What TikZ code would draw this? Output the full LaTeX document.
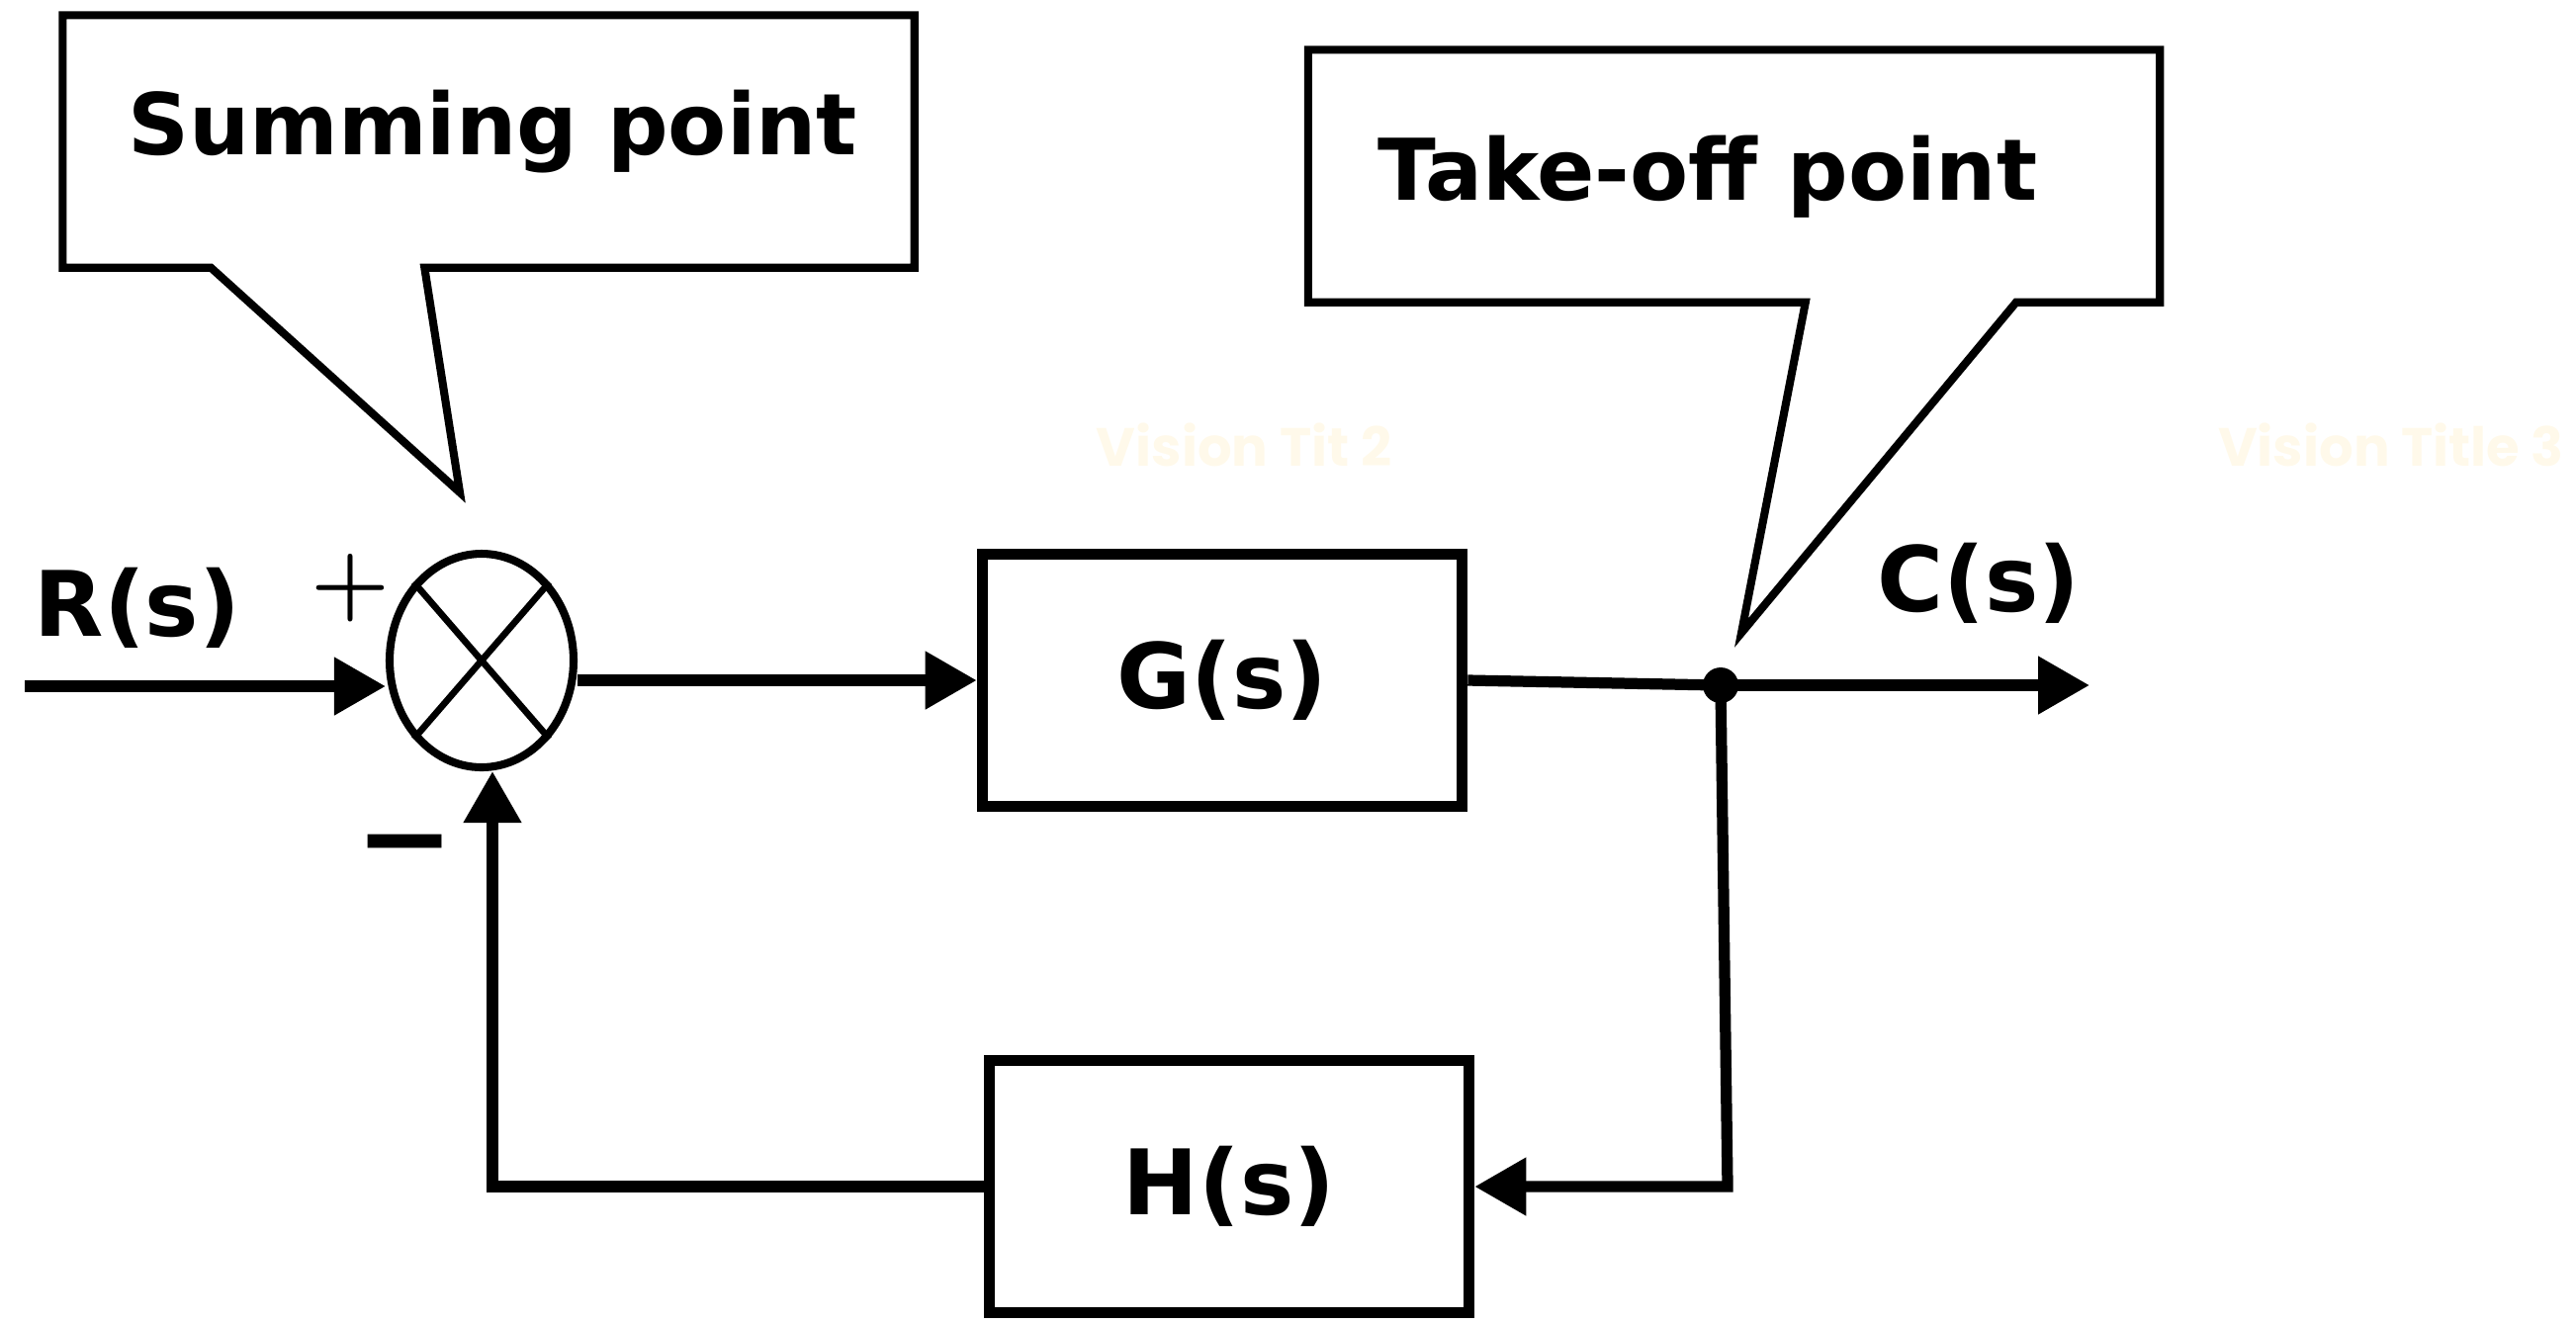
\documentclass[tikz,border=0pt]{standalone}
\usepackage{fontspec}
\setmainfont{DejaVu Sans}
\newfontfamily\poppins{Poppins}
\newfontfamily\lmfont{Latin Modern Roman}
\usetikzlibrary{positioning, arrows.meta, shapes.geometric, calc}
\definecolor{faint}{RGB}{255,249,234}

\begin{document}
\begin{tikzpicture}[font=\bfseries]
\tikzstyle{block}=[draw, line width=3.3pt, minimum width=4.85cm, minimum height=2.55cm, font=\fontsize{26}{30}\bfseries\selectfont]
\tikzstyle{sig}=[line width=3.2pt, -{Triangle[length=0.52cm, width=0.56cm]}]
\tikzstyle{wire}=[line width=3.2pt]
\tikzstyle{note}=[line width=2.3pt, line join=miter]
\tikzstyle{notebox}=[minimum width=8.6cm, minimum height=2.54cm, inner sep=0]
\tikzstyle{notetext}=[font=\fontsize{24.5}{29}\bfseries\selectfont]
\tikzstyle{lbl}=[font=\fontsize{26}{30}\bfseries\selectfont]
\tikzstyle{watermark}=[text=faint, font=\poppins\bfseries\fontsize{15.5}{18}\selectfont]

\useasboundingbox (0,0) rectangle (26.05,-13.38);

\node[watermark] (wm2) at (12.58,-4.50) {Vision Tit 2};
\node[watermark] (wm3) at (24.18,-4.50) {Vision Title 3};

\node[notebox] (sumbox) at (4.94,-1.43) {};
\node[notetext] (sumtext) at (4.98,-1.33) {Summing point};
\coordinate (sumtip) at (4.65,-4.98);
\draw[note] (sumbox.north west) -- (sumbox.north east) -- (sumbox.south east) -- ($(sumbox.south west)+(3.66,0)$) -- (sumtip) -- ($(sumbox.south west)+(1.50,0)$) -- (sumbox.south west) -- cycle;

\node[notebox] (tkbox) at (17.535,-1.78) {};
\node[notetext] (tktext) at (17.27,-1.79) {Take-off point};
\coordinate (tktip) at (17.61,-6.40);
\draw[note] (tkbox.north west) -- (tkbox.north east) -- (tkbox.south east) -- ($(tkbox.south west)+(7.16,0)$) -- (tktip) -- ($(tkbox.south west)+(5.03,0)$) -- (tkbox.south west) -- cycle;

\node[ellipse, draw, line width=2.3pt, minimum width=1.86cm, minimum height=2.16cm, inner sep=0] (sum) at (4.87,-6.68) {};
\draw[line width=1.9pt] (sum.north west) -- (sum.south east);
\draw[line width=1.9pt] (sum.north east) -- (sum.south west);
\node (plus) at (3.54,-5.95) {\lmfont\bfseries\fontsize{26}{26}\selectfont +};
\node (minus) at (4.10,-8.66) {\fontsize{34}{34}\selectfont −};

\node[block] (g) at (12.36,-6.88) {G(s)};
\node[block] (h) at (12.43,-12.00) {H(s)};

\node[lbl] (rlab) at (1.39,-6.15) {R(s)};
\node[lbl] (clab) at (20.01,-5.90) {C(s)};

\coordinate (rin) at (0.25,-6.94);
\coordinate (tk) at (17.40,-6.93);
\coordinate (cout) at (21.13,-6.93);
\coordinate (fbr) at (17.47,-12.00);
\coordinate (fbl) at (4.98,-12.00);

\draw[sig] (rin) -- (sum.west |- rin);
\draw[sig] (sum.east |- g.west) -- (g.west);
\draw[wire] (g.east) -- (tk);
\draw[sig] (tk) -- (cout);
\draw[sig] (tk) -- (fbr) -- (h.east);
\draw[sig] (h.west) -- (fbl) -- (fbl |- sum.south);
\fill (tk) circle (0.18);
\end{tikzpicture}
\end{document}
